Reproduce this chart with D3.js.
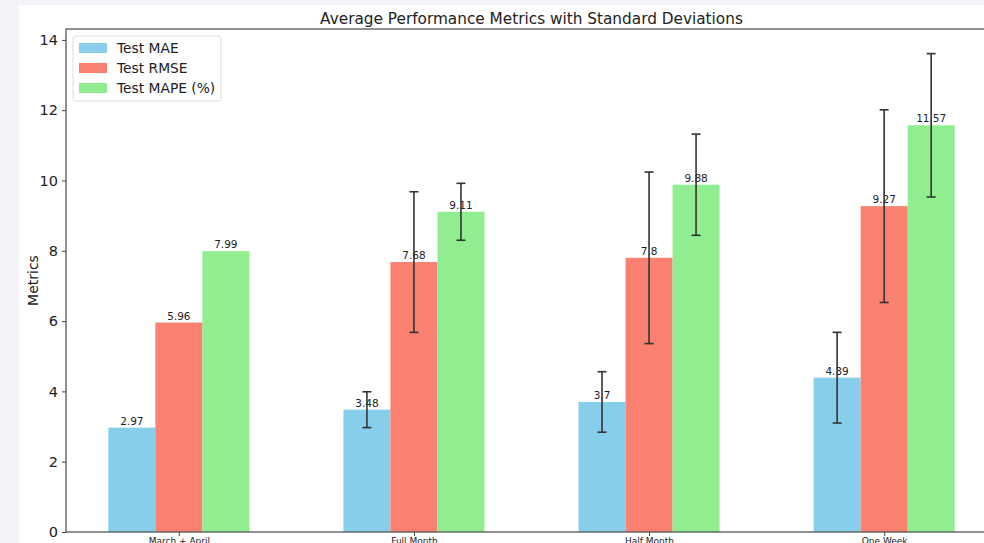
<!DOCTYPE html>
<html><head><meta charset="utf-8">
<script src="https://cdn.jsdelivr.net/npm/d3@7"></script>
<style>
html,body{margin:0;padding:0;background:#f3f4f8;}
svg{display:block;font-family:"DejaVu Sans",sans-serif;}
</style></head>
<body><svg id="c" width="984" height="543"></svg>
<script>
const categories = ["March + April", "Full Month", "Half Month", "One Week"];
const seriesNames = ["Test MAE", "Test RMSE", "Test MAPE (%)"];
const seriesColors = ["#87ceeb", "#fa8072", "#90ee90"];
const maeValues = [2.97, 3.48, 3.7, 4.39];
const rmseValues = [5.96, 7.68, 7.8, 9.27];
const mapeValues = [7.99, 9.11, 9.88, 11.57];
const maeStd = [null, 0.51, 0.86, 1.29];
const rmseStd = [null, 2.0, 2.44, 2.74];
const mapeStd = [null, 0.81, 1.44, 2.04];
const yTicks = [0, 2, 4, 6, 8, 10, 12, 14];

const values = [maeValues, rmseValues, mapeValues];
const stds = [maeStd, rmseStd, mapeStd];

const svg = d3.select("#c");
// figure background
svg.append("rect").attr("x", 19).attr("y", 5).attr("width", 984 - 19).attr("height", 543 - 5).attr("fill", "#ffffff");

const L = 66, R = 997, T = 29, B = 532;
const x = d3.scaleLinear().domain([-0.48, 3.48]).range([L, R]);
const y = d3.scaleLinear().domain([0, 14.31]).range([B, T]);
const bw = 0.2;

const g = svg.append("g");

// bars
values.forEach((vals, j) => {
  const off = (j - 1) * bw;
  g.selectAll(null).data(vals).enter().append("rect")
    .attr("x", (d, i) => x(i + off - bw / 2))
    .attr("width", (d, i) => x(i + off + bw / 2) - x(i + off - bw / 2))
    .attr("y", d => y(d))
    .attr("height", d => y(0) - y(d))
    .attr("fill", seriesColors[j]);
});

// value labels
values.forEach((vals, j) => {
  const off = (j - 1) * bw;
  g.selectAll(null).data(vals).enter().append("text")
    .attr("x", (d, i) => x(i + off))
    .attr("y", d => y(d) - 3)
    .attr("text-anchor", "middle")
    .attr("font-size", 10.5)
    .attr("fill", "#222")
    .text(d => d);
});

// error bars
values.forEach((vals, j) => {
  const off = (j - 1) * bw;
  vals.forEach((v, i) => {
    const s = stds[j][i];
    if (s == null) return;
    const cx = x(i + off);
    const eg = g.append("g").attr("stroke", "#333").attr("stroke-width", 1.6);
    eg.append("line").attr("x1", cx).attr("x2", cx).attr("y1", y(v - s)).attr("y2", y(v + s));
    [v - s, v + s].forEach(e => {
      eg.append("line").attr("x1", cx - 4.5).attr("x2", cx + 4.5).attr("y1", y(e)).attr("y2", y(e));
    });
  });
});

// axes
const yAxis = d3.axisLeft(y).tickValues(yTicks).tickSize(4).tickPadding(4).tickFormat(d3.format("d"));
const ya = svg.append("g").attr("transform", `translate(${L},0)`).call(yAxis);
ya.select(".domain").remove();
ya.selectAll("text").attr("font-size", 14.5).attr("fill", "#222").attr("font-family", "DejaVu Sans");
ya.selectAll("line").attr("stroke", "#444");

const xAxis = d3.axisBottom(x).tickValues(d3.range(categories.length)).tickSize(4).tickPadding(2).tickFormat(i => categories[i]);
const xa = svg.append("g").attr("transform", `translate(0,${B})`).call(xAxis);
xa.select(".domain").remove();
xa.selectAll("text").attr("font-size", 9).attr("fill", "#222").attr("font-family", "DejaVu Sans");
xa.selectAll("line").attr("stroke", "#444");

// spines
svg.append("rect").attr("x", L).attr("y", T).attr("width", R - L).attr("height", B - T)
  .attr("fill", "none").attr("stroke", "#555").attr("stroke-width", 1.3);

// title
svg.append("text").attr("x", (L + R) / 2).attr("y", 24).attr("text-anchor", "middle")
  .attr("font-size", 15.3).attr("fill", "#222").text("Average Performance Metrics with Standard Deviations");

// y label
svg.append("text").attr("transform", `translate(38,${(T + B) / 2}) rotate(-90)`).attr("text-anchor", "middle")
  .attr("font-size", 14).attr("fill", "#222").text("Metrics");

// legend
const lg = svg.append("g");
lg.append("rect").attr("x", 73).attr("y", 36).attr("width", 148).attr("height", 65).attr("rx", 3)
  .attr("fill", "#fff").attr("fill-opacity", 0.8).attr("stroke", "#ddd");
seriesNames.forEach((n, j) => {
  lg.append("rect").attr("x", 79).attr("y", 43 + j * 20).attr("width", 28).attr("height", 10).attr("fill", seriesColors[j]);
  lg.append("text").attr("x", 117).attr("y", 53 + j * 20).attr("font-size", 13.8).attr("fill", "#222").text(n);
});
</script></body></html>
